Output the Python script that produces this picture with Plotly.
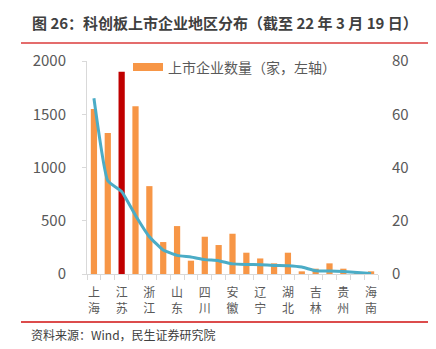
import plotly.graph_objects as go

# ---- data ----
tick_labels = ["上海", "江苏", "浙江", "山东", "四川", "安徽", "辽宁", "湖北", "吉林", "贵州", "海南"]
bar_values = [1550, 1325, 1900, 1575, 825, 300, 450, 125, 350, 272, 378,
              200, 146, 100, 200, 25, 50, 100, 50, 20, 25]
line_values = [66, 35, 31, 22, 14, 9, 7, 6.4, 5.4, 5, 3.8,
               3.6, 3.5, 3.2, 3.1, 2.6, 1.2, 1.1, 0.9, 0.6, 0.2]
highlight_index = 2
legend_text = "上市企业数量（家，左轴）"
title_text = "图 26：科创板上市企业地区分布（截至 22 年 3 月 19 日）"
source_text = "资料来源：Wind，民生证券研究院"

ORANGE = "#F79646"
RED = "#C00000"
TEAL = "#4BACC6"
GREY = "#595959"
AXIS = "#D9D9D9"
FONT = "Noto Sans CJK SC"

W, H = 436, 349
L, R, T, B = 87, 58, 61, 75
pw, ph = W - L - R, H - T - B


def px(x):
    return (x - L) / pw


def py(y):
    return (H - B - y) / ph


n = len(bar_values)
xs = list(range(n))
colors = [RED if i == highlight_index else ORANGE for i in xs]

fig = go.Figure()
fig.add_trace(go.Bar(x=xs, y=bar_values, marker=dict(color=colors, line=dict(width=0)),
                     width=0.45, showlegend=False, yaxis="y"))
fig.add_trace(go.Scatter(x=xs, y=line_values, mode="lines",
                         line=dict(color=TEAL, width=3, shape="spline", smoothing=0.4),
                         showlegend=False, yaxis="y2"))

fig.update_layout(
    width=W, height=H,
    margin=dict(l=L, r=R, t=T, b=B),
    paper_bgcolor="white", plot_bgcolor="white",
    font=dict(family=FONT, color=GREY),
    xaxis=dict(
        range=[-0.5, n - 0.5],
        tickvals=xs[::2],
        ticktext=["<br>".join(list(s)) for s in tick_labels],
        ticks="", tickfont=dict(size=12, color=GREY),
        ticklabelstandoff=8,
        showline=True, linecolor=AXIS, linewidth=1,
        showgrid=False, zeroline=False,
        minor=dict(tickvals=[i - 0.5 for i in range(n + 1)], ticks="outside",
                   ticklen=5, tickcolor=AXIS, showgrid=False),
    ),
    yaxis=dict(
        range=[0, 2000], tickvals=[0, 500, 1000, 1500, 2000],
        showgrid=False, zeroline=False,
        showline=True, linecolor=AXIS, linewidth=1,
        ticks="outside", ticklen=4, tickcolor=AXIS,
        tickfont=dict(size=15, color=GREY),
        ticklabelstandoff=13,
    ),
    yaxis2=dict(
        range=[0, 80], tickvals=[0, 20, 40, 60, 80],
        overlaying="y", side="right",
        showgrid=False, zeroline=False, showline=False, ticks="",
        tickfont=dict(size=15, color=GREY),
        ticklabelstandoff=13,
    ),
    shapes=[
        dict(type="line", xref="paper", yref="paper", x0=px(21), x1=px(428),
             y0=py(43), y1=py(43), line=dict(color="#E46C6C", width=2)),
        dict(type="line", xref="paper", yref="paper", x0=px(21), x1=px(428),
             y0=py(322), y1=py(322), line=dict(color="#D01010", width=1.5)),
        dict(type="rect", xref="paper", yref="paper", x0=px(133), x1=px(163),
             y0=py(71), y1=py(63), fillcolor=ORANGE, line=dict(width=0)),
    ],
    annotations=[
        dict(text="<b>" + title_text + "</b>", xref="paper", yref="paper",
             x=px(30), y=py(22), xanchor="left", yanchor="middle", showarrow=False,
             font=dict(size=15, color="#404040", family=FONT)),
        dict(text=legend_text, xref="paper", yref="paper",
             x=px(166), y=py(67), xanchor="left", yanchor="middle", showarrow=False,
             font=dict(size=14, color=GREY, family=FONT)),
        dict(text=source_text, xref="paper", yref="paper",
             x=px(29), y=py(334), xanchor="left", yanchor="middle", showarrow=False,
             font=dict(size=12, color="#404040", family=FONT)),
    ],
)

fig.write_html("out.html")
